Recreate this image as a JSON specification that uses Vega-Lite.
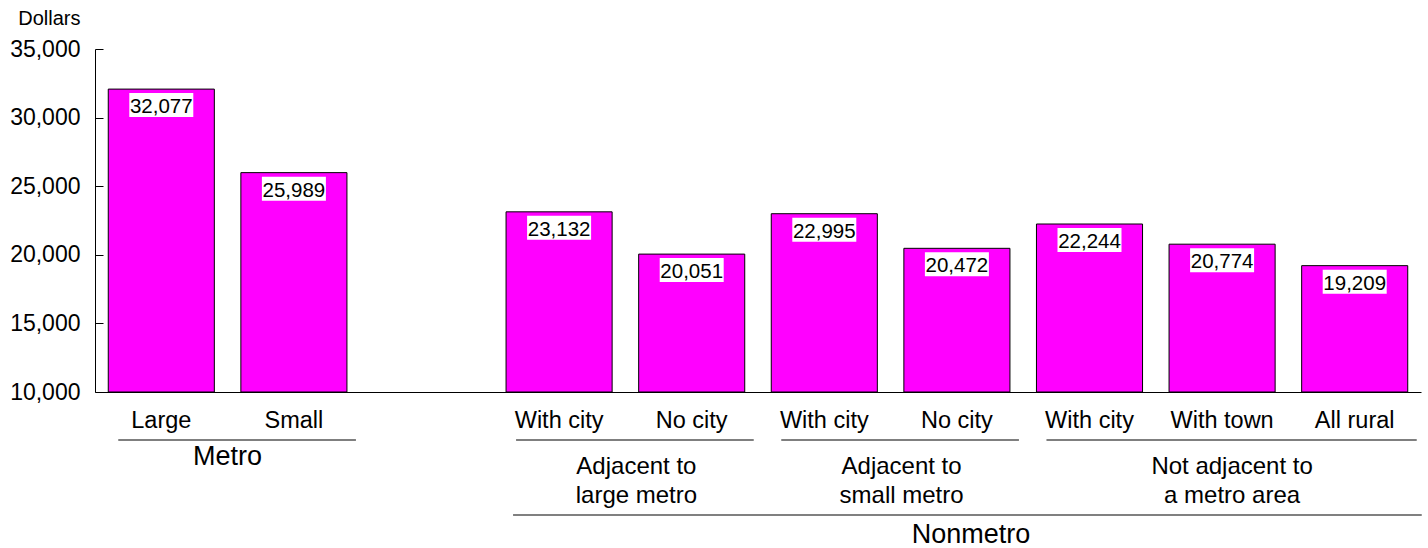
{
  "$schema": "https://vega.github.io/schema/vega-lite/v6.json",
  "width": 1326,
  "height": 343,
  "autosize": "none",
  "padding": {"left": 95, "top": 49, "right": 7, "bottom": 156},
  "background": "white",
  "config": {
    "view": {"stroke": null},
    "font": "Liberation Sans",
    "axis": {"grid": false, "domainColor": "#000000", "tickColor": "#000000", "labelColor": "#000000", "titleColor": "#000000", "domainWidth": 1, "tickWidth": 1}
  },
  "datasets": {
    "bars": [
      {"id": "L", "label": "Large", "value": 32077},
      {"id": "S", "label": "Small", "value": 25989},
      {"id": "A1", "label": "With city", "value": 23132},
      {"id": "A2", "label": "No city", "value": 20051},
      {"id": "B1", "label": "With city", "value": 22995},
      {"id": "B2", "label": "No city", "value": 20472},
      {"id": "C1", "label": "With city", "value": 22244},
      {"id": "C2", "label": "With town", "value": 20774},
      {"id": "C3", "label": "All rural", "value": 19209}
    ],
    "groups": [
      {"group": "Metro", "first": "L", "last": "S"},
      {"group": "Adjacent to large metro", "first": "A1", "last": "A2"},
      {"group": "Adjacent to small metro", "first": "B1", "last": "B2"},
      {"group": "Not adjacent to a metro area", "first": "C1", "last": "C3"}
    ],
    "top": [
      {"group": "Nonmetro", "first": "A1", "last": "C3", "mid": "B2"}
    ],
    "metroLabel": [{"text": "Metro", "anchor": "L"}],
    "pairLabels": [
      {"text": "Adjacent to\nlarge metro", "anchor": "A1"},
      {"text": "Adjacent to\nsmall metro", "anchor": "B1"}
    ],
    "tripleLabels": [
      {"text": "Not adjacent to\na metro area", "anchor": "C2"}
    ]
  },
  "layer": [
    {
      "data": {"name": "bars"},
      "mark": {"type": "bar", "fill": "#FF00FF", "stroke": "#000000", "strokeWidth": 1},
      "encoding": {
        "x": {
          "field": "id", "type": "nominal",
          "scale": {"domain": ["L", "S", "gap", "A1", "A2", "B1", "B2", "C1", "C2", "C3"], "paddingInner": 0.2, "paddingOuter": 0.1},
          "axis": {
            "title": null, "ticks": false, "labelPadding": 35, "labelBaseline": "alphabetic",
            "labelFontSize": 23.5, "labelAngle": 0,
            "labelExpr": "['Large','Small','','With city','No city','With city','No city','With city','With town','All rural'][indexof(['L','S','gap','A1','A2','B1','B2','C1','C2','C3'], datum.value)]"
          }
        },
        "y": {
          "field": "value", "type": "quantitative",
          "scale": {"domain": [10000, 35000], "zero": false, "nice": false},
          "axis": {
            "title": "Dollars", "values": [10000, 15000, 20000, 25000, 30000, 35000], "format": ",",
            "labelExpr": "format(datum.value, ',')",
            "tickSize": -8, "labelPadding": 23, "labelFontSize": 23,
            "titleAngle": 0, "titleAlign": "right", "titleX": -15, "titleY": -25, "titleBaseline": "alphabetic",
            "titleFontSize": 20, "titleFontWeight": "normal"
          }
        },
        "y2": {"datum": 10000}
      }
    },
    {
      "data": {"name": "bars"},
      "mark": {"type": "bar", "fill": "#ffffff", "width": 64, "yOffset": 4, "y2Offset": 28},
      "encoding": {
        "x": {"field": "id", "type": "nominal", "scale": {"domain": ["L", "S", "gap", "A1", "A2", "B1", "B2", "C1", "C2", "C3"], "paddingInner": 0.2, "paddingOuter": 0.1}, "axis": {"title": null}},
        "y": {"field": "value", "type": "quantitative", "scale": {"domain": [10000, 35000], "zero": false, "nice": false}},
        "y2": {"field": "value"}
      }
    },
    {
      "data": {"name": "bars"},
      "mark": {"type": "text", "baseline": "alphabetic", "dy": 24, "fontSize": 20.5, "color": "#000000"},
      "encoding": {
        "x": {"field": "id", "type": "nominal", "scale": {"domain": ["L", "S", "gap", "A1", "A2", "B1", "B2", "C1", "C2", "C3"], "paddingInner": 0.2, "paddingOuter": 0.1}, "axis": {"title": null}},
        "y": {"field": "value", "type": "quantitative", "scale": {"domain": [10000, 35000], "zero": false, "nice": false}},
        "text": {"field": "value", "type": "quantitative", "format": ","}
      }
    },
    {
      "data": {"name": "groups"},
      "mark": {"type": "rule", "color": "#000000", "strokeWidth": 1.2, "xOffset": 10, "x2Offset": 9, "clip": false},
      "encoding": {
        "x": {"field": "first", "type": "nominal", "bandPosition": 0, "scale": {"domain": ["L", "S", "gap", "A1", "A2", "B1", "B2", "C1", "C2", "C3"], "paddingInner": 0.2, "paddingOuter": 0.1}, "axis": {"title": null}},
        "x2": {"field": "last", "bandPosition": 1},
        "y": {"datum": 6502, "type": "quantitative", "scale": {"domain": [10000, 35000], "zero": false, "nice": false}}
      }
    },
    {
      "data": {"name": "top"},
      "mark": {"type": "rule", "color": "#808080", "strokeWidth": 2, "xOffset": 7, "x2Offset": 14, "clip": false},
      "encoding": {
        "x": {"field": "first", "type": "nominal", "bandPosition": 0, "scale": {"domain": ["L", "S", "gap", "A1", "A2", "B1", "B2", "C1", "C2", "C3"], "paddingInner": 0.2, "paddingOuter": 0.1}, "axis": {"title": null}},
        "x2": {"field": "last", "bandPosition": 1},
        "y": {"datum": 1035, "type": "quantitative", "scale": {"domain": [10000, 35000], "zero": false, "nice": false}}
      }
    },
    {
      "data": {"name": "top"},
      "mark": {"type": "text", "baseline": "alphabetic", "align": "center", "fontSize": 27, "dx": 14, "color": "#000000", "clip": false},
      "encoding": {
        "x": {"field": "mid", "type": "nominal", "bandPosition": 0.5, "scale": {"domain": ["L", "S", "gap", "A1", "A2", "B1", "B2", "C1", "C2", "C3"], "paddingInner": 0.2, "paddingOuter": 0.1}, "axis": {"title": null}},
        "y": {"datum": -1006, "type": "quantitative", "scale": {"domain": [10000, 35000], "zero": false, "nice": false}},
        "text": {"field": "group"}
      }
    },
    {
      "data": {"name": "metroLabel"},
      "mark": {"type": "text", "baseline": "alphabetic", "align": "center", "fontSize": 27, "color": "#000000", "clip": false},
      "encoding": {
        "x": {"field": "anchor", "type": "nominal", "bandPosition": 1.125, "scale": {"domain": ["L", "S", "gap", "A1", "A2", "B1", "B2", "C1", "C2", "C3"], "paddingInner": 0.2, "paddingOuter": 0.1}, "axis": {"title": null}},
        "y": {"datum": 4679, "type": "quantitative", "scale": {"domain": [10000, 35000], "zero": false, "nice": false}},
        "text": {"field": "text"}
      }
    },
    {
      "data": {"name": "pairLabels"},
      "mark": {"type": "text", "baseline": "top", "align": "center", "fontSize": 24, "lineHeight": 28.5, "lineBreak": "\n", "dx": 11, "color": "#000000", "clip": false},
      "encoding": {
        "x": {"field": "anchor", "type": "nominal", "bandPosition": 1.125, "scale": {"domain": ["L", "S", "gap", "A1", "A2", "B1", "B2", "C1", "C2", "C3"], "paddingInner": 0.2, "paddingOuter": 0.1}, "axis": {"title": null}},
        "y": {"datum": 5408, "type": "quantitative", "scale": {"domain": [10000, 35000], "zero": false, "nice": false}},
        "text": {"field": "text"}
      }
    },
    {
      "data": {"name": "tripleLabels"},
      "mark": {"type": "text", "baseline": "top", "align": "center", "fontSize": 24, "lineHeight": 28.5, "lineBreak": "\n", "dx": 10, "color": "#000000", "clip": false},
      "encoding": {
        "x": {"field": "anchor", "type": "nominal", "bandPosition": 0.5, "scale": {"domain": ["L", "S", "gap", "A1", "A2", "B1", "B2", "C1", "C2", "C3"], "paddingInner": 0.2, "paddingOuter": 0.1}, "axis": {"title": null}},
        "y": {"datum": 5408, "type": "quantitative", "scale": {"domain": [10000, 35000], "zero": false, "nice": false}},
        "text": {"field": "text"}
      }
    }
  ]
}
